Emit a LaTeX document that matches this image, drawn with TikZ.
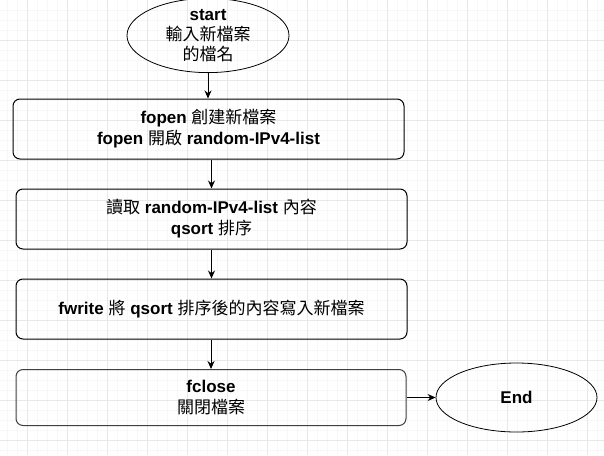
\documentclass[tikz,border=0pt]{standalone}
\usepackage{fontspec}
\setmainfont{Liberation Sans}
\newfontfamily\cjk{Noto Sans CJK TC}
\usetikzlibrary{arrows.meta,shapes.geometric}
\newcommand{\zh}[1]{{\cjk #1}}
\definecolor{minorgray}{HTML}{F7F7F7}
\definecolor{majorgray}{HTML}{E8E8E8}
\begin{document}
\begin{tikzpicture}[x=1pt,y=-1pt,
  box/.style={draw=black,line width=1pt,rounded corners=7pt,minimum width=391pt,
    minimum height=60pt,inner sep=0pt,align=center,font=\fontsize{17}{21}\selectfont},
  oval/.style={draw=black,line width=0.8pt,ellipse,minimum width=162pt,minimum height=69pt,
    inner sep=0pt,align=center,font=\fontsize{17}{20}\selectfont},
  link/.style={line width=1pt,-{Stealth[length=8pt,width=7pt]}}]

\useasboundingbox (0,0) rectangle (604,455);
\fill[white] (0,0) rectangle (604,455);

% background grid
\foreach \x in {7,17,...,597} \draw[minorgray,line width=1pt] (\x,0) -- (\x,455);
\foreach \y in {10,20,...,450} \draw[minorgray,line width=1pt] (0,\y) -- (604,\y);
\foreach \x in {27,67,...,587} \draw[majorgray,line width=1pt] (\x,0) -- (\x,455);
\foreach \y in {40,80,...,440} \draw[majorgray,line width=1pt] (0,\y) -- (604,\y);

\node[oval] (start) at (208,35.5) {\textbf{start}\\\zh{輸入新檔案}\\\zh{的檔名}};
\node[box] (open) at (208.5,129) {\textbf{fopen} \zh{創建新檔案}\\\textbf{fopen} \zh{開啟} \textbf{random-IPv4-list}};
\node[box] (read) at (211.5,219) {\zh{讀取} \textbf{random-IPv4-list} \zh{內容}\\\textbf{qsort} \zh{排序}};
\node[box] (write) at (211.5,309) {\textbf{fwrite} \zh{將} \textbf{qsort} \zh{排序後的內容寫入新檔案}};
\node[box,draw=black!75,minimum width=390pt,minimum height=56pt] (close) at (211,397.5) {\textbf{fclose}\\\zh{關閉檔案}};
\node[oval,minimum width=161pt] (end) at (516.5,397.5) {\textbf{End}};

\draw[link] (start.south) -- (start.south |- open.north);
\draw[link] (open.south -| read.north) -- (read.north);
\draw[link] (read.south) -- (write.north);
\draw[link] (write.south -| close.north) -- (close.north);
\draw[link] (close.east) -- (end.west);

\end{tikzpicture}
\end{document}
